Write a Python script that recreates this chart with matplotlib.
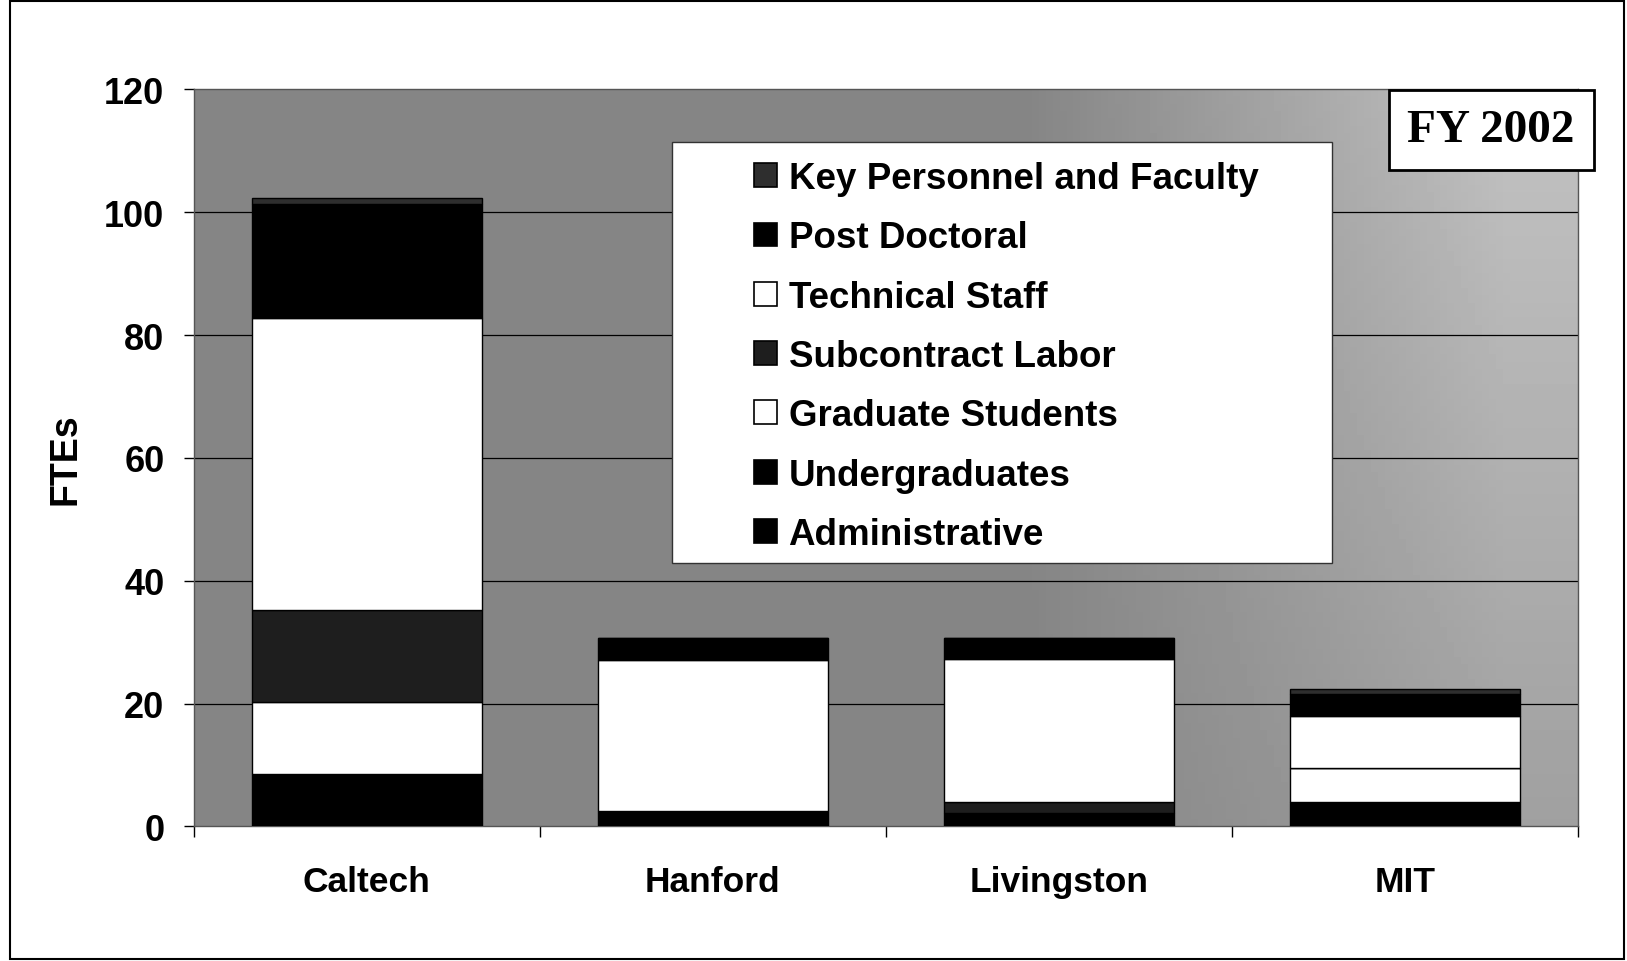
import numpy as np
import matplotlib
matplotlib.use('Agg')
import matplotlib.pyplot as plt
from matplotlib.patches import Rectangle, Patch

# dati (FTE per sito, FY 2002)
categories = ['Caltech', 'Hanford', 'Livingston', 'MIT']
administrative = [6.0, 2.5, 2.2, 4.0]
undergraduates = [2.6, 0.0, 0.0, 0.0]
graduate_students = [11.7, 0.0, 0.0, 5.5]
subcontract_labor = [14.9, 0.0, 1.8, 0.0]
technical_staff = [47.6, 24.6, 23.2, 8.4]
post_doctoral = [18.5, 3.5, 3.4, 3.6]
key_personnel = [1.0, 0.0, 0.0, 0.8]

series_names = ['Administrative', 'Undergraduates', 'Graduate Students',
                'Subcontract Labor', 'Technical Staff', 'Post Doctoral',
                'Key Personnel and Faculty']
series_values = [administrative, undergraduates, graduate_students,
                 subcontract_labor, technical_staff, post_doctoral, key_personnel]
series_colors = ['black', 'black', 'white', '#1e1e1e', 'white', 'black', '#2e2e2e']

plt.rcParams['font.family'] = ['Liberation Sans', 'DejaVu Sans']

fig = plt.figure(figsize=(16.27, 9.62), dpi=100, facecolor='white')
ax = fig.add_axes([0.119, 0.140, 0.851, 0.766])

# sfondo grigio: piu' scuro a sinistra, piu' chiaro in alto a destra
gx = np.linspace(0, 1, 200)
gy = np.linspace(0, 1, 100)
GX, GY = np.meshgrid(gx, gy)
shade = 0.52 + 0.24 * np.clip((GX - 0.6) / 0.35, 0, 1) * (0.45 + 0.55 * GY)
ax.imshow(shade, cmap='gray', vmin=0, vmax=1, extent=(-0.5, 3.5, 0, 120),
          aspect='auto', origin='lower', zorder=0)

x = np.arange(len(categories))
bottom = np.zeros(len(categories))
for name, vals, col in zip(series_names, series_values, series_colors):
    vals = np.array(vals)
    ax.bar(x, vals, width=0.665, bottom=bottom, color=col, edgecolor='black',
           linewidth=1.0, zorder=3)
    bottom += vals

ax.set_xlim(-0.5, 3.5)
ax.set_ylim(0, 120)
ax.set_yticks(np.arange(0, 121, 20))
for yv in np.arange(20, 120, 20):
    ax.axhline(yv, color='black', linewidth=0.9, zorder=1)

ax.set_xticks(x)
ax.set_xticklabels(categories, fontsize=25.5, fontweight='bold')
ax.set_xticks(np.arange(-0.5, 4, 1), minor=True)
ax.tick_params(axis='x', which='major', length=0, pad=28)
ax.tick_params(axis='x', which='minor', length=8, width=1, direction='out')
ax.tick_params(axis='y', length=7, width=1, pad=14, labelsize=26)
for lab in ax.get_yticklabels():
    lab.set_fontweight('bold')
for sp in ax.spines.values():
    sp.set_color('#555555')
    sp.set_linewidth(1.0)

ax.set_ylabel('FTEs', fontsize=27, fontweight='bold', labelpad=15)

# riquadro della legenda
fig.patches.append(Rectangle((0.413, 0.4137), 0.4057, 0.4376, transform=fig.transFigure,
                             facecolor='white', edgecolor='#333333', linewidth=1.0, zorder=9))

# legenda (ordine come nel grafico originale, dall'alto in basso)
handles = []
for name, col in zip(series_names[::-1], series_colors[::-1]):
    handles.append(Patch(facecolor=col, edgecolor='black', linewidth=1.2, label=name))
leg = fig.legend(handles=handles, loc='upper left', bbox_to_anchor=(0.4634, 0.8315),
                 prop={'weight': 'bold', 'size': 26.5},
                 handlelength=0.62, handleheight=0.62, handletextpad=0.32,
                 labelspacing=0.66, borderpad=0, borderaxespad=0, frameon=False)
leg.set_zorder(10)

# riquadro FY 2002
fig.text(0.9165, 0.864, 'FY 2002', fontsize=34, fontweight='bold',
         family=['Liberation Serif', 'DejaVu Serif'], ha='center', va='center',
         bbox=dict(boxstyle='square,pad=0.4', facecolor='white', edgecolor='black', linewidth=2.0),
         zorder=11)

# cornice esterna
fig.patches.append(Rectangle((0.006, 0.002), 0.992, 0.996, transform=fig.transFigure,
                             fill=False, edgecolor='black', linewidth=1.5))

fig.savefig('out.png', dpi=100)
